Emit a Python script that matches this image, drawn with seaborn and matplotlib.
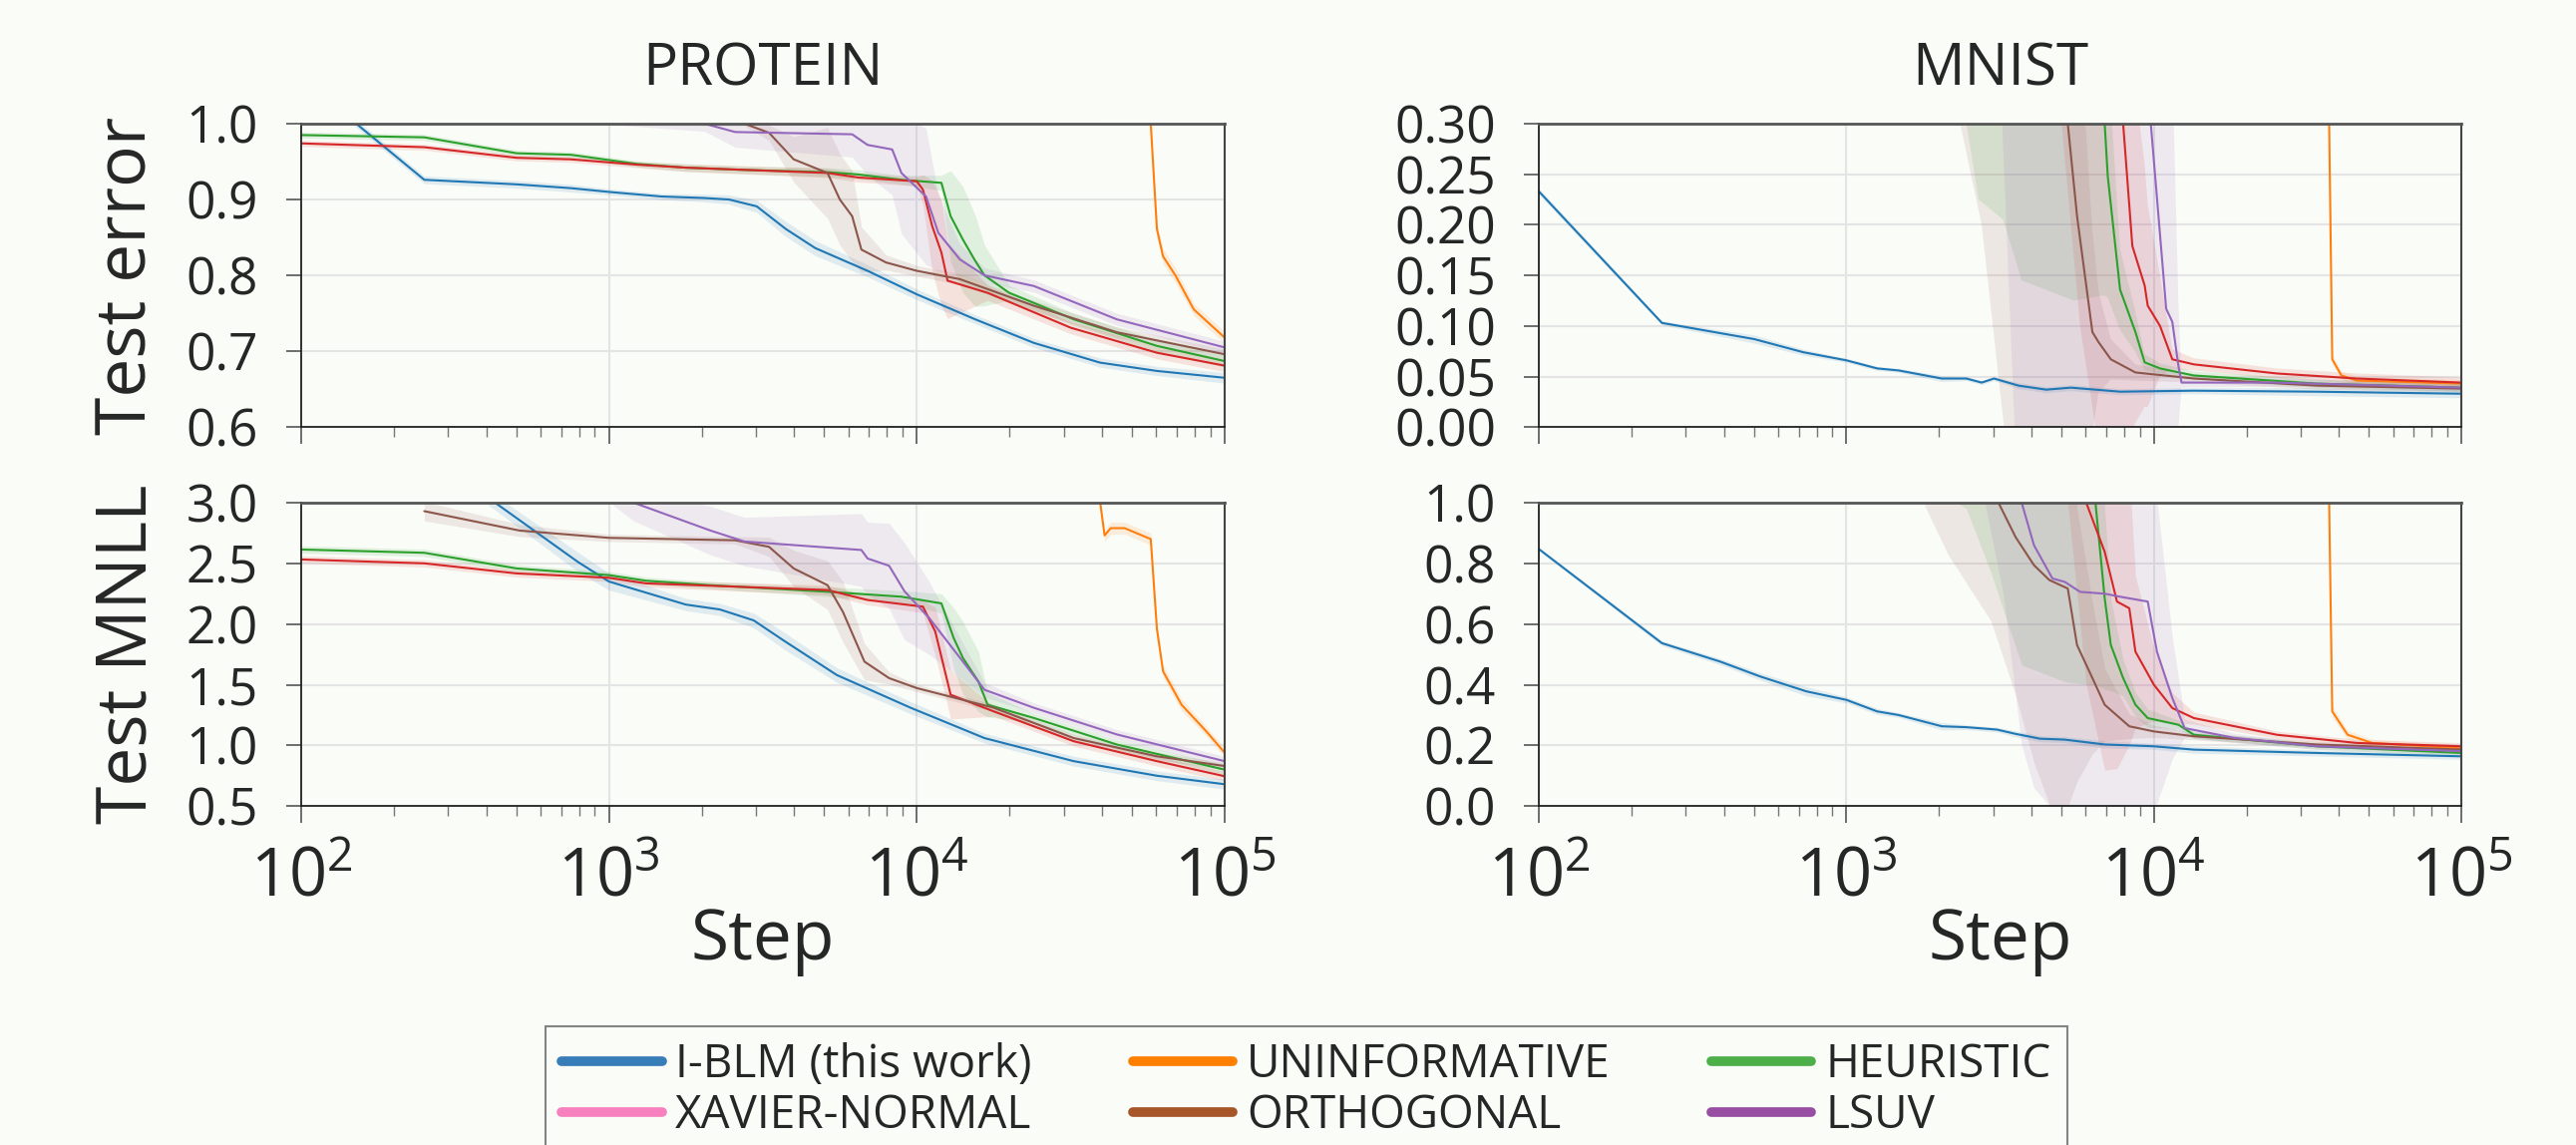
import numpy as np
import matplotlib
matplotlib.use("Agg")
import matplotlib.pyplot as plt
from matplotlib.lines import Line2D
import pandas as pd
import seaborn as sns

# Curves: (log10 step, mean, half-width of band)
methods = ["I-BLM", "Uninformative", "Heuristic", "Xavier-Normal", "Orthogonal", "LSUV"]
line_colors = {
    "I-BLM": "#1f77b4",
    "Uninformative": "#ff7f0e",
    "Heuristic": "#2ca02c",
    "Xavier-Normal": "#d62728",
    "Orthogonal": "#8c564b",
    "LSUV": "#9467bd",
}
legend_labels = ["I-BLM (this work)", "XAVIER-NORMAL", "UNINFORMATIVE",
                 "ORTHOGONAL", "HEURISTIC", "LSUV"]
legend_colors = ["#377eb8", "#f781bf", "#ff7f00", "#a65628", "#4daf4a", "#984ea3"]

protein_error = {
    "I-BLM": [(2.0, 1.06, 0.005), (2.40, 0.926, 0.005), (2.70, 0.920, 0.005), (2.876, 0.915, 0.005),
              (3.0, 0.910, 0.004), (3.17, 0.904, 0.004), (3.31, 0.902, 0.005), (3.39, 0.900, 0.006),
              (3.48, 0.891, 0.008), (3.575, 0.861, 0.010), (3.67, 0.836, 0.010), (3.84, 0.806, 0.008),
              (4.0, 0.775, 0.007), (4.19, 0.742, 0.006), (4.38, 0.711, 0.006), (4.595, 0.685, 0.006),
              (4.78, 0.674, 0.006), (5.0, 0.665, 0.007)],
    "Heuristic": [(2.0, 0.985, 0.004), (2.4, 0.982, 0.004), (2.70, 0.961, 0.004), (2.876, 0.959, 0.004),
                  (3.09, 0.947, 0.004), (3.25, 0.942, 0.005), (3.44, 0.939, 0.005), (3.71, 0.936, 0.006),
                  (3.81, 0.933, 0.006), (3.95, 0.926, 0.006), (4.08, 0.922, 0.010), (4.11, 0.878, 0.06),
                  (4.15, 0.847, 0.07), (4.19, 0.819, 0.06), (4.22, 0.800, 0.04), (4.30, 0.777, 0.010),
                  (4.51, 0.742, 0.008), (4.78, 0.707, 0.008), (5.0, 0.687, 0.008)],
    "Xavier-Normal": [(2.0, 0.974, 0.004), (2.4, 0.969, 0.004), (2.70, 0.955, 0.004), (2.876, 0.953, 0.004),
                      (3.09, 0.946, 0.004), (3.25, 0.942, 0.005), (3.71, 0.935, 0.006), (3.81, 0.929, 0.006),
                      (4.0, 0.924, 0.006), (4.02, 0.913, 0.02), (4.05, 0.865, 0.06), (4.08, 0.830, 0.07),
                      (4.10, 0.793, 0.05), (4.23, 0.777, 0.010), (4.5, 0.731, 0.008), (4.78, 0.698, 0.008),
                      (5.0, 0.681, 0.008)],
    "Orthogonal": [(2.4, 1.0, 0.001), (3.44, 1.0, 0.003), (3.52, 0.988, 0.010), (3.60, 0.953, 0.03),
                   (3.71, 0.935, 0.06), (3.75, 0.900, 0.06), (3.79, 0.878, 0.06), (3.82, 0.834, 0.03),
                   (3.90, 0.817, 0.010), (4.0, 0.806, 0.007), (4.14, 0.795, 0.007), (4.38, 0.760, 0.007),
                   (4.65, 0.725, 0.007), (5.0, 0.696, 0.007)],
    "LSUV": [(3.0, 1.0, 0.001), (3.31, 1.0, 0.010), (3.41, 0.989, 0.02), (3.79, 0.986, 0.03),
             (3.84, 0.972, 0.04), (3.92, 0.966, 0.06), (3.95, 0.935, 0.08), (4.03, 0.904, 0.09),
             (4.07, 0.856, 0.05), (4.14, 0.821, 0.02), (4.22, 0.800, 0.010), (4.38, 0.786, 0.008),
             (4.65, 0.742, 0.008), (5.0, 0.705, 0.008)],
    "Uninformative": [(4.57, 1.0, 0.001), (4.76, 1.0, 0.002), (4.78, 0.861, 0.010), (4.80, 0.825, 0.010),
                      (4.84, 0.800, 0.010), (4.90, 0.755, 0.008), (5.0, 0.718, 0.008)],
}

protein_mnll = {
    "I-BLM": [(2.0, 4.1, 0.05), (2.4, 3.4, 0.05), (2.63, 3.0, 0.06), (2.90, 2.51, 0.08), (3.0, 2.35, 0.07),
              (3.25, 2.16, 0.05), (3.36, 2.12, 0.05), (3.47, 2.03, 0.06), (3.57, 1.86, 0.07),
              (3.74, 1.58, 0.06), (3.98, 1.31, 0.05), (4.22, 1.06, 0.04), (4.51, 0.87, 0.04),
              (4.78, 0.75, 0.04), (5.0, 0.68, 0.04)],
    "Heuristic": [(2.0, 2.614, 0.03), (2.4, 2.587, 0.03), (2.70, 2.458, 0.03), (3.0, 2.403, 0.03),
                  (3.12, 2.357, 0.03), (3.33, 2.32, 0.03), (3.71, 2.266, 0.04), (3.95, 2.225, 0.05),
                  (4.08, 2.17, 0.08), (4.12, 1.883, 0.25), (4.15, 1.72, 0.30), (4.20, 1.527, 0.25),
                  (4.23, 1.335, 0.10), (4.38, 1.226, 0.04), (4.65, 1.007, 0.04), (5.0, 0.80, 0.04)],
    "Xavier-Normal": [(2.0, 2.532, 0.03), (2.4, 2.50, 0.03), (2.7, 2.417, 0.03), (3.0, 2.381, 0.03),
                      (3.12, 2.335, 0.03), (3.71, 2.28, 0.04), (3.84, 2.198, 0.04), (4.02, 2.143, 0.05),
                      (4.06, 1.938, 0.20), (4.11, 1.417, 0.20), (4.25, 1.28, 0.04), (4.51, 1.034, 0.04),
                      (4.78, 0.87, 0.04), (5.0, 0.746, 0.04)],
    "Orthogonal": [(2.4, 2.93, 0.08), (2.71, 2.77, 0.05), (3.0, 2.71, 0.03), (3.41, 2.69, 0.03),
                   (3.52, 2.636, 0.08), (3.60, 2.458, 0.15), (3.71, 2.32, 0.20), (3.76, 2.10, 0.25),
                   (3.83, 1.69, 0.15), (3.91, 1.554, 0.05), (4.0, 1.472, 0.03), (4.25, 1.31, 0.03),
                   (4.51, 1.06, 0.03), (4.78, 0.91, 0.03), (5.0, 0.83, 0.03)],
    "LSUV": [(2.4, 4.0, 0.1), (2.9, 3.3, 0.1), (3.08, 3.0, 0.15), (3.33, 2.77, 0.20), (3.44, 2.68, 0.20),
             (3.82, 2.61, 0.30), (3.84, 2.54, 0.30), (3.91, 2.48, 0.35), (3.96, 2.27, 0.40),
             (4.04, 2.05, 0.30), (4.15, 1.69, 0.15), (4.22, 1.458, 0.06), (4.38, 1.31, 0.04),
             (4.65, 1.09, 0.04), (5.0, 0.87, 0.04)],
    "Uninformative": [(4.58, 3.3, 0.05), (4.61, 2.73, 0.05), (4.63, 2.79, 0.05), (4.675, 2.79, 0.05),
                      (4.76, 2.70, 0.05), (4.78, 1.96, 0.05), (4.80, 1.61, 0.05), (4.86, 1.335, 0.05),
                      (4.94, 1.117, 0.04), (5.0, 0.94, 0.04)],
}

mnist_error = {
    "I-BLM": [(2.0, 0.233, 0.003), (2.4, 0.103, 0.002), (2.7, 0.087, 0.004), (2.86, 0.074, 0.003),
              (3.0, 0.066, 0.002), (3.10, 0.058, 0.002), (3.17, 0.056, 0.002), (3.31, 0.048, 0.003),
              (3.39, 0.048, 0.002), (3.44, 0.044, 0.002), (3.48, 0.048, 0.002), (3.56, 0.041, 0.003),
              (3.65, 0.037, 0.003), (3.73, 0.039, 0.003), (3.89, 0.035, 0.003), (4.13, 0.036, 0.003),
              (4.53, 0.035, 0.004), (5.0, 0.033, 0.004)],
    "Orthogonal": [(3.30, 0.90, 0.55), (3.37, 0.90, 0.60), (3.44, 0.90, 0.70), (3.52, 0.90, 0.92),
                   (3.70, 0.80, 0.85), (3.72, 0.30, 0.32), (3.75, 0.209, 0.22), (3.80, 0.094, 0.10),
                   (3.82, 0.084, 0.05), (3.86, 0.067, 0.02), (3.94, 0.054, 0.008), (4.13, 0.048, 0.004),
                   (4.53, 0.041, 0.004), (5.0, 0.038, 0.004)],
    "Heuristic": [(3.38, 0.90, 0.58), (3.43, 0.90, 0.675), (3.51, 0.90, 0.695), (3.57, 0.90, 0.755),
                  (3.74, 0.90, 0.775), (3.83, 0.40, 0.27), (3.84, 0.30, 0.17), (3.85, 0.248, 0.12),
                  (3.89, 0.136, 0.04), (3.94, 0.094, 0.02), (3.97, 0.064, 0.008), (4.02, 0.058, 0.005),
                  (4.13, 0.051, 0.004), (4.53, 0.043, 0.004), (5.0, 0.039, 0.004)],
    "Xavier-Normal": [(3.70, 0.90, 0.60), (3.76, 0.90, 0.80), (3.82, 0.90, 0.92), (3.89, 0.60, 0.62),
                      (3.90, 0.30, 0.31), (3.93, 0.179, 0.18), (3.97, 0.14, 0.12), (3.98, 0.12, 0.10),
                      (4.02, 0.10, 0.05), (4.06, 0.067, 0.01), (4.13, 0.062, 0.006), (4.40, 0.053, 0.005),
                      (4.66, 0.048, 0.005), (5.0, 0.044, 0.005)],
    "LSUV": [(3.50, 0.90, 0.55), (3.55, 0.90, 0.92), (3.98, 0.60, 0.62), (3.99, 0.30, 0.32),
             (4.04, 0.117, 0.25), (4.06, 0.104, 0.25), (4.08, 0.06, 0.06), (4.09, 0.044, 0.005),
             (4.40, 0.044, 0.004), (5.0, 0.039, 0.004)],
    "Uninformative": [(4.50, 0.90, 0.01), (4.57, 0.30, 0.02), (4.58, 0.067, 0.005), (4.61, 0.051, 0.004),
                      (4.66, 0.046, 0.004), (5.0, 0.043, 0.004)],
}

mnist_mnll = {
    "I-BLM": [(2.0, 0.847, 0.005), (2.4, 0.537, 0.008), (2.59, 0.476, 0.010), (2.72, 0.427, 0.012),
              (2.87, 0.378, 0.015), (3.0, 0.350, 0.010), (3.10, 0.312, 0.010), (3.17, 0.300, 0.008),
              (3.31, 0.263, 0.012), (3.39, 0.260, 0.008), (3.49, 0.252, 0.008), (3.55, 0.238, 0.010),
              (3.63, 0.222, 0.010), (3.71, 0.219, 0.010), (3.84, 0.203, 0.012), (4.0, 0.197, 0.010),
              (4.13, 0.186, 0.012), (4.53, 0.175, 0.010), (5.0, 0.164, 0.010)],
    "Orthogonal": [(3.20, 1.6, 0.5), (3.25, 1.6, 0.6), (3.33, 1.4, 0.57), (3.47, 1.05, 0.44),
                   (3.55, 0.887, 0.52), (3.61, 0.794, 0.65), (3.66, 0.745, 0.74), (3.72, 0.717, 0.72),
                   (3.75, 0.531, 0.45), (3.80, 0.422, 0.25), (3.84, 0.334, 0.12), (3.92, 0.263, 0.04),
                   (4.0, 0.246, 0.02), (4.13, 0.230, 0.012), (4.53, 0.203, 0.010), (5.0, 0.186, 0.010)],
    "Heuristic": [(3.36, 1.6, 0.6), (3.39, 1.6, 0.62), (3.47, 1.6, 0.83), (3.57, 1.6, 1.135),
                  (3.71, 1.6, 1.19), (3.79, 1.3, 0.9), (3.81, 1.0, 0.6), (3.84, 0.685, 0.30),
                  (3.86, 0.531, 0.15), (3.90, 0.422, 0.06), (3.94, 0.334, 0.04), (3.98, 0.290, 0.03),
                  (4.08, 0.268, 0.015), (4.13, 0.235, 0.012), (4.53, 0.197, 0.010), (5.0, 0.175, 0.010)],
    "Xavier-Normal": [(3.72, 1.5, 0.5), (3.78, 1.0, 0.6), (3.84, 0.838, 0.72), (3.88, 0.674, 0.55),
                      (3.92, 0.652, 0.45), (3.94, 0.509, 0.25), (4.0, 0.400, 0.12), (4.06, 0.323, 0.05),
                      (4.13, 0.290, 0.02), (4.40, 0.235, 0.012), (4.66, 0.208, 0.012), (5.0, 0.197, 0.012)],
    "LSUV": [(3.45, 1.5, 0.5), (3.51, 1.3, 0.6), (3.57, 1.0, 0.8), (3.61, 0.86, 0.8), (3.67, 0.75, 0.76),
             (3.71, 0.739, 0.76), (3.76, 0.706, 0.73), (3.84, 0.700, 0.72), (3.89, 0.690, 0.71),
             (3.98, 0.674, 0.69), (4.01, 0.509, 0.5), (4.06, 0.356, 0.2), (4.10, 0.257, 0.03),
             (4.26, 0.225, 0.015), (4.53, 0.197, 0.010), (5.0, 0.181, 0.010)],
    "Uninformative": [(4.50, 3.0, 0.01), (4.57, 1.0, 0.02), (4.58, 0.312, 0.02), (4.63, 0.235, 0.015),
                      (4.71, 0.208, 0.012), (5.0, 0.190, 0.012)],
}

panels = [
    ("PROTEIN", "Test error", protein_error, (0.6, 1.0), [0.6, 0.7, 0.8, 0.9, 1.0], "%.1f"),
    ("MNIST", None, mnist_error, (0.0, 0.30), [0.0, 0.05, 0.10, 0.15, 0.20, 0.25, 0.30], "%.2f"),
    (None, "Test MNLL", protein_mnll, (0.5, 3.0), [0.5, 1.0, 1.5, 2.0, 2.5, 3.0], "%.1f"),
    (None, None, mnist_mnll, (0.0, 1.0), [0.0, 0.2, 0.4, 0.6, 0.8, 1.0], "%.1f"),
]

bg = "#fafcf7"
sns.set_theme(style="ticks")
plt.rcParams["font.family"] = ["Open Sans", "DejaVu Sans"]
plt.rcParams["mathtext.fontset"] = "custom"
plt.rcParams["mathtext.rm"] = "Open Sans"
plt.rcParams["mathtext.it"] = "Open Sans"

fig = plt.figure(figsize=(25.83, 11.48), dpi=100, facecolor=bg)
positions = [
    [0.1169, 0.627, 0.3585, 0.265],
    [0.5974, 0.627, 0.3581, 0.265],
    [0.1169, 0.296, 0.3585, 0.265],
    [0.5974, 0.296, 0.3581, 0.265],
]

for i, (title, ylabel, curves, ylim, yticks, fmt) in enumerate(panels):
    ax = fig.add_axes(positions[i])
    ax.set_facecolor(bg)

    frames = []
    for m in methods:
        pts = np.array(curves[m])
        frames.append(pd.DataFrame({"step": 10 ** pts[:, 0], "value": pts[:, 1],
                                    "spread": pts[:, 2], "method": m}))
    df = pd.concat(frames, ignore_index=True)

    for m in methods:
        d = df[df["method"] == m]
        ax.fill_between(d["step"], d["value"] - d["spread"], d["value"] + d["spread"],
                        color=line_colors[m], alpha=0.12, lw=0)
    sns.lineplot(data=df, x="step", y="value", hue="method", palette=line_colors,
                 hue_order=methods, ax=ax, legend=False, lw=1.5, errorbar=None)

    ax.set_xscale("log")
    ax.set_xlim(100, 1e5)
    ax.set_ylim(*ylim)
    ax.set_yticks(yticks)
    ax.set_yticklabels([fmt % v for v in yticks])
    ax.grid(True, which="major", color="#e4e4e4", lw=1.5)
    ax.set_axisbelow(True)

    ax.tick_params(axis="y", which="major", length=11, width=1.2, color="#555555",
                   labelsize=37, pad=20)
    ax.tick_params(axis="x", which="major", length=12, width=1.2, color="#555555",
                   labelsize=48, pad=16)
    ax.tick_params(axis="x", which="minor", length=7, width=1.0, color="#777777")

    for side in ["left", "bottom"]:
        ax.spines[side].set_color("#222222")
        ax.spines[side].set_linewidth(1.3)
    ax.spines["top"].set_color("#555555")
    ax.spines["top"].set_linewidth(2.0)
    ax.spines["right"].set_color("#444444")
    ax.spines["right"].set_linewidth(1.5)

    if title:
        ax.set_title(title, fontsize=42, pad=28)
        ax.tick_params(axis="x", which="both", labelbottom=False)
        ax.set_xlabel("")
    else:
        ax.set_xlabel("Step", fontsize=50, labelpad=-4)
    if ylabel:
        ax.set_ylabel(ylabel, fontsize=50)
        ax.yaxis.set_label_coords(-0.15, 0.5)
    else:
        ax.set_ylabel("")

handles = [Line2D([0], [0], color=c, lw=7) for c in legend_colors]
leg = fig.legend(handles, legend_labels, loc="upper center", bbox_to_anchor=(0.507, 0.124),
                 ncol=3, fontsize=33, frameon=True, fancybox=False, handlelength=2.2,
                 handletextpad=0.3, columnspacing=2.2, labelspacing=0.12, borderpad=0.35)
leg.get_frame().set_facecolor(bg)
leg.get_frame().set_edgecolor("#666666")
leg.get_frame().set_linewidth(1.5)

fig.savefig("out.png", dpi=100, facecolor=bg)
